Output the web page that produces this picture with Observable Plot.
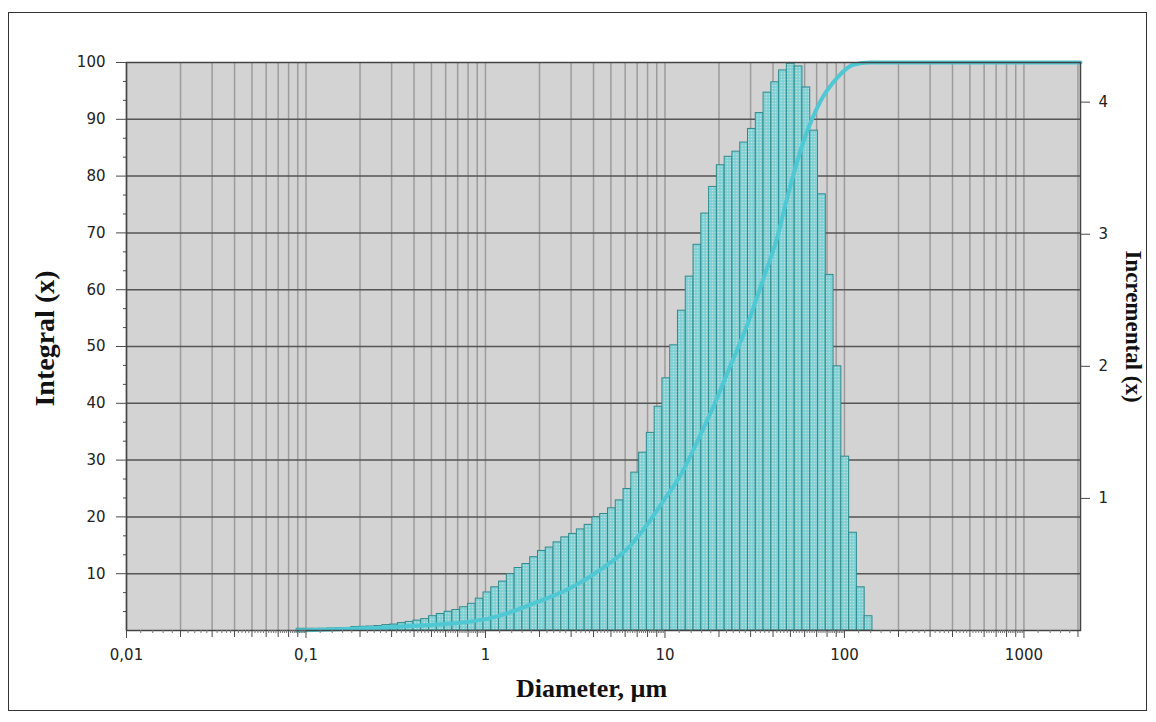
<!DOCTYPE html>
<html><head><meta charset="utf-8">
<script src="https://cdn.jsdelivr.net/npm/d3@7"></script>
<script src="https://cdn.jsdelivr.net/npm/@observablehq/plot@0.6"></script>
<style>
body{margin:0;background:#fff;}
#wrap{position:relative;width:1156px;height:722px;}
#border{position:absolute;left:8px;top:12px;width:1139px;height:699px;border:1px solid #333;pointer-events:none;box-sizing:border-box;}
</style></head><body>
<div id="wrap"><div id="border"></div></div>
<script>
// Channel edges (µm)
const binEdges = [0.0889,0.0982,0.1085,0.1199,0.1325,0.1464,0.1618,0.1788,0.1975,0.2183,0.2412,0.2665,0.2945,0.3254,0.3595,0.3972,0.4389,0.4850,0.5359,0.5921,0.6542,0.7229,0.7988,0.8826,0.9752,1.0775,1.1906,1.3155,1.4536,1.6061,1.7748,1.9611,2.1669,2.3943,2.6455,2.9231,3.2299,3.5688,3.9434,4.3572,4.814,5.319,5.877,6.494,7.176,7.929,8.761,9.680,10.696,11.818,13.06,14.43,15.94,17.62,19.46,21.51,23.76,26.26,29.01,32.06,35.43,39.14,43.25,47.79,52.80,58.35,64.47,71.23,78.71,86.97,96.09,106.2,117.3,129.6,143.2];
// Incremental values per channel (right axis)
const incremental = [0.013,0.013,0.013,0.013,0.015,0.017,0.019,0.026,0.028,0.030,0.034,0.041,0.045,0.056,0.065,0.075,0.086,0.108,0.125,0.142,0.155,0.176,0.202,0.241,0.288,0.327,0.370,0.426,0.473,0.503,0.555,0.602,0.628,0.667,0.705,0.731,0.765,0.800,0.856,0.882,0.925,0.985,1.071,1.195,1.346,1.496,1.694,1.909,2.159,2.421,2.679,2.920,3.156,3.358,3.522,3.586,3.625,3.694,3.797,3.917,4.072,4.150,4.240,4.291,4.270,4.111,3.784,3.302,2.692,2.000,1.316,0.740,0.327,0.108];
// Integral (cumulative) curve
const curveDiameter = [0.089,0.15,0.26,0.51,0.79,1.0,1.25,1.9,2.9,4.5,6.4,7.9,9.8,12.3,15.2,18.6,23.2,28.6,35.3,42.2,47.8,59,73,91,112,139,2066];
const curveIntegral = [0,0.2,0.5,1.0,1.5,2.0,2.8,4.9,7.3,11.0,14.9,18.5,22.8,27.5,33.4,39.4,46.7,53.6,61.9,69.2,76,86,93,97.3,99.6,100,100];
// Axes
const xTickValues = [0.01,0.1,1,10,100,1000];
const xTickLabels = ["0,01","0,1","1","10","100","1000"];
const leftTicks = [10,20,30,40,50,60,70,80,90,100];
const rightTicks = [1,2,3,4];
const rightTickLabels = ["1","2","3","4"];
const rightMax = 4.3;
const xDomain = [0.01, 2066];

const k = 100 / rightMax;
const bars = incremental.map((v, i) => ({x1: binEdges[i], x2: binEdges[i + 1], y: v * k}));
const curve = curveDiameter.map((d, i) => ({d, v: curveIntegral[i]}));

const gridX = [], minorX = [], subX = [];
for (const dec of [0.01, 0.1, 1, 10, 100, 1000]) {
  for (let m = 1; m <= 9; m++) { const v = m * dec; if (v <= xDomain[1]) { gridX.push(v); if (m > 1) minorX.push(v); } }
  for (let m = 1; m < 10; m++) for (const f of [0.2, 0.4, 0.6, 0.8]) { const v = (m + f) * dec; if (v < xDomain[1]) subX.push(v); }
}
const minorY = [];
for (let i = 1; i < 30; i++) if (i % 3) minorY.push(i * 10 / 3);

const tickColor = "#4a4a4a";
const titleFont = {fontFamily: "Liberation Serif", fontWeight: "bold", fill: "#111", textAnchor: "middle"};
const chart = Plot.plot({
  width: 1156, height: 722,
  marginLeft: 126, marginRight: 76, marginTop: 62, marginBottom: 92,
  style: {fontFamily: "DejaVu Sans", fontSize: "15px", color: "#222", background: "transparent"},
  x: {type: "log", domain: xDomain, axis: null, label: null},
  y: {domain: [0, 100], axis: null, label: null},
  marks: [
    Plot.frame({fill: "#d3d3d3", stroke: null}),
    Plot.ruleX(gridX, {stroke: "#9c9c9c", strokeWidth: 1.5}),
    Plot.ruleY(leftTicks.slice(0, -1), {stroke: "#555", strokeWidth: 1.5}),
    Plot.rectY(bars, {x1: "x1", x2: "x2", y1: 0, y2: "y", fill: "url(#dots)", stroke: "#2e8a8c", strokeWidth: 1}),
    Plot.line(curve, {x: "d", y: "v", stroke: "#4fc8d3", strokeWidth: 4, curve: "monotone-x"}),
    Plot.frame({stroke: "#444", strokeWidth: 1.5}),
    Plot.axisY(leftTicks, {anchor: "left", tickSize: 10, tickPadding: 11, stroke: tickColor, label: null}),
    Plot.axisY(minorY, {anchor: "left", tickSize: 3, tickFormat: () => "", stroke: tickColor, label: null}),
    Plot.axisY(rightTicks.map(v => v * k), {anchor: "right", tickSize: 9, tickPadding: 9, stroke: tickColor, label: null,
      tickFormat: d => rightTickLabels[rightTicks.indexOf(Math.round(d / k))]}),
    Plot.axisX(xTickValues, {anchor: "bottom", tickSize: 8, tickPadding: 11, stroke: tickColor, label: null,
      tickFormat: d => xTickLabels[xTickValues.indexOf(d)]}),
    Plot.axisX(minorX, {anchor: "bottom", tickSize: 7, tickFormat: () => "", stroke: tickColor, label: null}),
    Plot.axisX(subX, {anchor: "bottom", tickSize: 3, tickFormat: () => "", stroke: "#777", label: null}),
    Plot.text(["Integral (x)"], {frameAnchor: "left", dx: -81, dy: -8, rotate: -90, fontSize: 28, ...titleFont}),
    Plot.text(["Incremental (x)"], {frameAnchor: "right", dx: 53, dy: -20, rotate: 90, fontSize: 23, ...titleFont}),
    Plot.text(["Diameter, µm"], {frameAnchor: "bottom", dx: -12, dy: 66, fontSize: 26, ...titleFont})
  ]
});
d3.select(chart).insert("defs", ":first-child").html(
  '<pattern id="dots" width="3" height="3" patternUnits="userSpaceOnUse">' +
  '<rect width="3" height="3" fill="#7ed1d5"/>' +
  '<circle cx="1.5" cy="1.5" r="0.8" fill="#c6dcdc"/></pattern>');
document.getElementById("wrap").prepend(chart);
</script>
</body></html>
